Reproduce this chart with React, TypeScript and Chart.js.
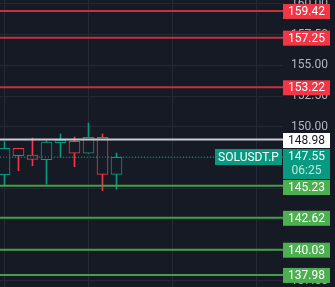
import React, { useEffect, useRef } from 'react';
import { Chart, registerables } from 'chart.js';

Chart.register(...registerables);

// ---- data ----
const candleSlots = [0, 1, 2, 3, 4, 5, 6, 7, 8];
const opens = [146.12, 148.27, 147.72, 147.34, 148.72, 148.83, 147.86, 149.16, 146.15];
const highs = [148.8, 148.27, 149.1, 148.86, 149.43, 149.18, 150.32, 149.43, 147.88];
const lows = [145.3, 146.45, 146.85, 145.35, 147.53, 146.77, 147.86, 144.82, 144.94];
const closes = [148.27, 147.67, 147.37, 148.78, 148.94, 147.86, 149.16, 146.15, 147.53];

const resistanceLevels = [159.42, 157.25, 153.22];
const supportLevels = [145.23, 142.62, 140.03, 137.98];
const markerLevel = 148.98;
const lastPrice = 147.55;
const countdown = '06:25';
const symbol = 'SOLUSDT.P';
const yTickValues = [137.5, 140, 142.5, 145, 147.5, 150, 152.5, 155, 157.5, 160];
const xGridSlots = [0, 6, 12, 18];

// ---- style ----
const W = 335;
const H = 287;
const AXIS_W = 52;
const X_MIN = -0.32;
const X_MAX = 19.89;
const Y_MIN = 137.0;
const Y_MAX = 160.31;
const BG = '#161a25';
const GRID = '#252935';
const UP = '#089981';
const DOWN = '#f23645';
const RED_LINE = '#c8303c';
const GREEN_LINE = '#43a047';
const GREEN_LABEL = '#4caf50';
const WHITE_LINE = '#c9cbd1';
const FONT_FAMILY = 'Roboto, "Liberation Sans", sans-serif';

const hLine = (v: number, color: string, width: number, dash: number[] = []) => ({
  type: 'line' as const,
  data: [
    { x: X_MIN, y: v },
    { x: X_MAX, y: v },
  ],
  borderColor: color,
  borderWidth: width,
  borderDash: dash,
  pointRadius: 0,
  order: 0,
});

const bgPlugin = {
  id: 'bg',
  beforeDraw(chart: any) {
    const { ctx } = chart;
    ctx.save();
    ctx.fillStyle = BG;
    ctx.fillRect(0, 0, chart.width, chart.height);
    ctx.restore();
  },
};

const labelPlugin = {
  id: 'priceLabels',
  afterDraw(chart: any) {
    const { ctx, chartArea, scales } = chart;
    const ys = scales.y;
    const left = chartArea.right;
    const boxW = 47;
    const bh = 15;
    ctx.save();
    ctx.font = `12px ${FONT_FAMILY}`;
    ctx.textAlign = 'center';
    ctx.textBaseline = 'middle';
    const cx = left + boxW / 2;

    const box = (top: number, h: number, fill: string) => {
      ctx.fillStyle = fill;
      ctx.fillRect(left, top, boxW, h);
    };

    // resistance (red)
    resistanceLevels.forEach((v) => {
      const c = ys.getPixelForValue(v) + 0.5;
      box(c - bh / 2, bh, DOWN);
      ctx.fillStyle = '#ffffff';
      ctx.fillText(v.toFixed(2), cx, c + 0.5);
    });

    // last price (teal, two lines)
    const pLast = ys.getPixelForValue(lastPrice);
    const tealTop = Math.round(pLast - 8);
    const tealH = 30;
    box(tealTop, tealH, UP);
    ctx.fillStyle = '#ffffff';
    ctx.fillText(lastPrice.toFixed(2), cx, tealTop + 8);
    ctx.fillStyle = 'rgba(255,255,255,0.75)';
    ctx.fillText(countdown, cx, tealTop + 22);

    // symbol tag
    const tw = ctx.measureText(symbol).width;
    const sw = Math.round(tw + 6);
    ctx.fillStyle = UP;
    ctx.fillRect(left - sw - 1, tealTop, sw, 16);
    ctx.fillStyle = '#ffffff';
    ctx.fillText(symbol, left - 1 - sw / 2, tealTop + 8.5);

    // marker (white)
    const pm = ys.getPixelForValue(markerLevel) + 1;
    let wTop = pm - bh / 2;
    if (wTop + bh > tealTop) wTop = tealTop - bh;
    box(wTop, bh, '#ffffff');
    ctx.fillStyle = '#131722';
    ctx.fillText(markerLevel.toFixed(2), cx, wTop + bh / 2 + 0.5);

    // support (green)
    let prevBottom = tealTop + tealH;
    supportLevels.forEach((v) => {
      const c = ys.getPixelForValue(v) + 0.5;
      let top = c - bh / 2;
      if (top < prevBottom) top = prevBottom + 1;
      box(top, bh, GREEN_LABEL);
      ctx.fillStyle = '#ffffff';
      ctx.fillText(v.toFixed(2), cx, top + bh / 2 + 0.5);
      prevBottom = top + bh;
    });
    ctx.restore();
  },
};

export default function App() {
  const ref = useRef<HTMLCanvasElement>(null);

  useEffect(() => {
    document.body.style.margin = '0';
    document.body.style.background = BG;
    const canvas = ref.current;
    if (!canvas) return;
    const colorOf = (i: number) => (closes[i] >= opens[i] ? UP : DOWN);
    const chart = new Chart(canvas, {
      type: 'bar',
      data: {
        datasets: [
          ...resistanceLevels.map((v) => hLine(v, RED_LINE, 2)),
          ...supportLevels.map((v) => hLine(v, GREEN_LINE, 2)),
          hLine(markerLevel, WHITE_LINE, 2),
          hLine(lastPrice, UP, 1, [1, 2]),
          {
            type: 'bar' as const,
            data: candleSlots.map((s, i) => ({ x: s, y: [opens[i], closes[i]] })) as any,
            backgroundColor: BG,
            borderColor: candleSlots.map((_, i) => colorOf(i)),
            borderWidth: 1,
            borderSkipped: false,
            barThickness: 11,
            grouped: false,
            order: 1,
          },
          {
            type: 'bar' as const,
            data: candleSlots.map((s, i) => ({ x: s, y: [lows[i], highs[i]] })) as any,
            backgroundColor: candleSlots.map((_, i) => colorOf(i)),
            borderWidth: 0,
            barThickness: 1,
            grouped: false,
            order: 2,
          },
        ] as any,
      },
      options: {
        animation: false,
        responsive: false,
        maintainAspectRatio: false,
        layout: { padding: 0 },
        plugins: { legend: { display: false }, tooltip: { enabled: false } },
        scales: {
          x: {
            type: 'linear',
            offset: false,
            min: X_MIN,
            max: X_MAX,
            afterBuildTicks: (s: any) => {
              s.ticks = xGridSlots.map((v) => ({ value: v }));
            },
            afterFit: (s: any) => {
              s.height = 0;
              s.paddingLeft = 0;
              s.paddingRight = 0;
            },
            ticks: { display: false },
            grid: { color: GRID, drawTicks: false, tickLength: 0, offset: false },
            border: { display: false },
          },
          y: {
            type: 'linear',
            position: 'right',
            min: Y_MIN,
            max: Y_MAX,
            afterBuildTicks: (s: any) => {
              s.ticks = yTickValues.map((v) => ({ value: v }));
            },
            afterFit: (s: any) => {
              s.width = AXIS_W;
              s.paddingTop = 0;
              s.paddingBottom = 0;
            },
            ticks: {
              color: '#b2b5be',
              font: { family: FONT_FAMILY, size: 12 },
              crossAlign: 'near',
              padding: 8,
              callback: (v: any) => Number(v).toFixed(2),
            },
            grid: { color: GRID, drawTicks: false, tickLength: 0 },
            border: { display: false },
          },
        },
      } as any,
      plugins: [bgPlugin, labelPlugin],
    });
    return () => chart.destroy();
  }, []);

  return (
    <div style={{ width: W, height: H, background: BG }}>
      <canvas ref={ref} width={W} height={H} style={{ display: 'block', width: W, height: H }} />
    </div>
  );
}
